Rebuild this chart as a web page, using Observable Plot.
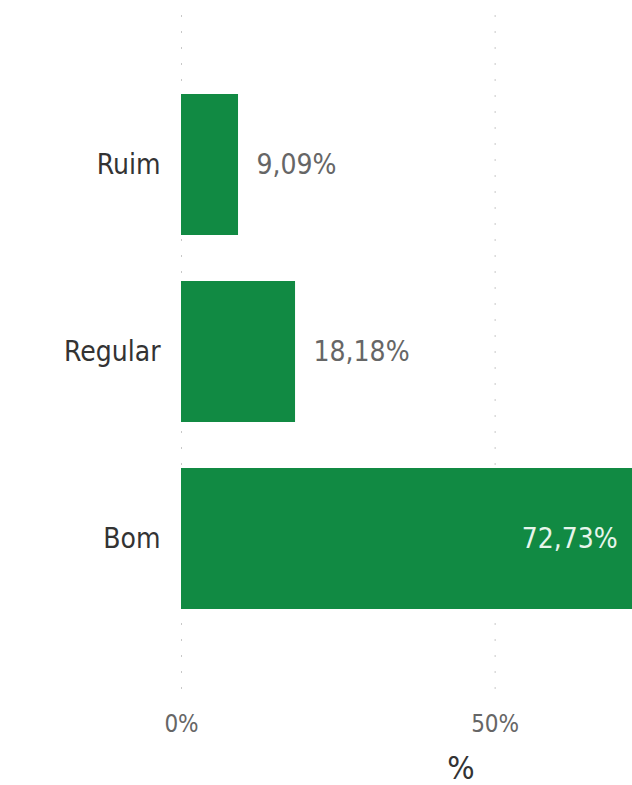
<!DOCTYPE html>
<html><head><meta charset="utf-8">
<script src="https://cdn.jsdelivr.net/npm/d3@7"></script>
<script src="https://cdn.jsdelivr.net/npm/@observablehq/plot@0.6"></script>
<style>html,body{margin:0;padding:0;background:#fff;overflow:hidden}</style>
</head><body><div id="chart"></div>
<script>
const categories = ["Ruim", "Regular", "Bom"];
const values = [9.09, 18.18, 72.73];
const valueLabels = ["9,09%", "18,18%", "72,73%"];
const xTicks = [0, 50];
const axisTitle = "%";

const data = categories.map((c, i) => ({cat: c, value: values[i], label: valueLabels[i]}));
const FONT = "'DejaVu Sans Condensed','Open Sans',sans-serif";
const inside = d => d.value > 50;

const chart = Plot.plot({
  width: 632, height: 785,
  marginLeft: 181, marginRight: 0, marginTop: 48, marginBottom: 129,
  style: {fontFamily: FONT, background: "#fff", overflow: "hidden"},
  x: {domain: [0, 71.9]},
  y: {domain: categories, padding: 0.245},
  marks: [
    Plot.ruleX(xTicks, {x: d => d, stroke: "#c8c8c8", strokeDasharray: "2,14", insetTop: -33, insetBottom: -36}),
    Plot.barX(data, {x: "value", y: "cat", fill: "#118a43", clip: "frame"}),
    Plot.text(data.filter(d => !inside(d)), {x: "value", y: "cat", text: "label", textAnchor: "start", dx: 18, fill: "#666", fontSize: 28}),
    Plot.text(data.filter(inside), {x: "value", y: "cat", text: "label", textAnchor: "end", dx: -20, fill: "#e6f5ec", fontSize: 28}),
    Plot.axisY({tickSize: 0, tickPadding: 21, fontSize: 28, fill: "#333", label: null}),
    Plot.axisX(xTicks, {tickSize: 0, tickPadding: 58, tickFormat: d => d + "%", fontSize: 24, fill: "#666", label: null}),
    Plot.text([axisTitle], {frameAnchor: "bottom", dx: 54, dy: 122, fontSize: 32, fill: "#333"})
  ]
});
document.getElementById("chart").appendChild(chart);
</script>
</body></html>
